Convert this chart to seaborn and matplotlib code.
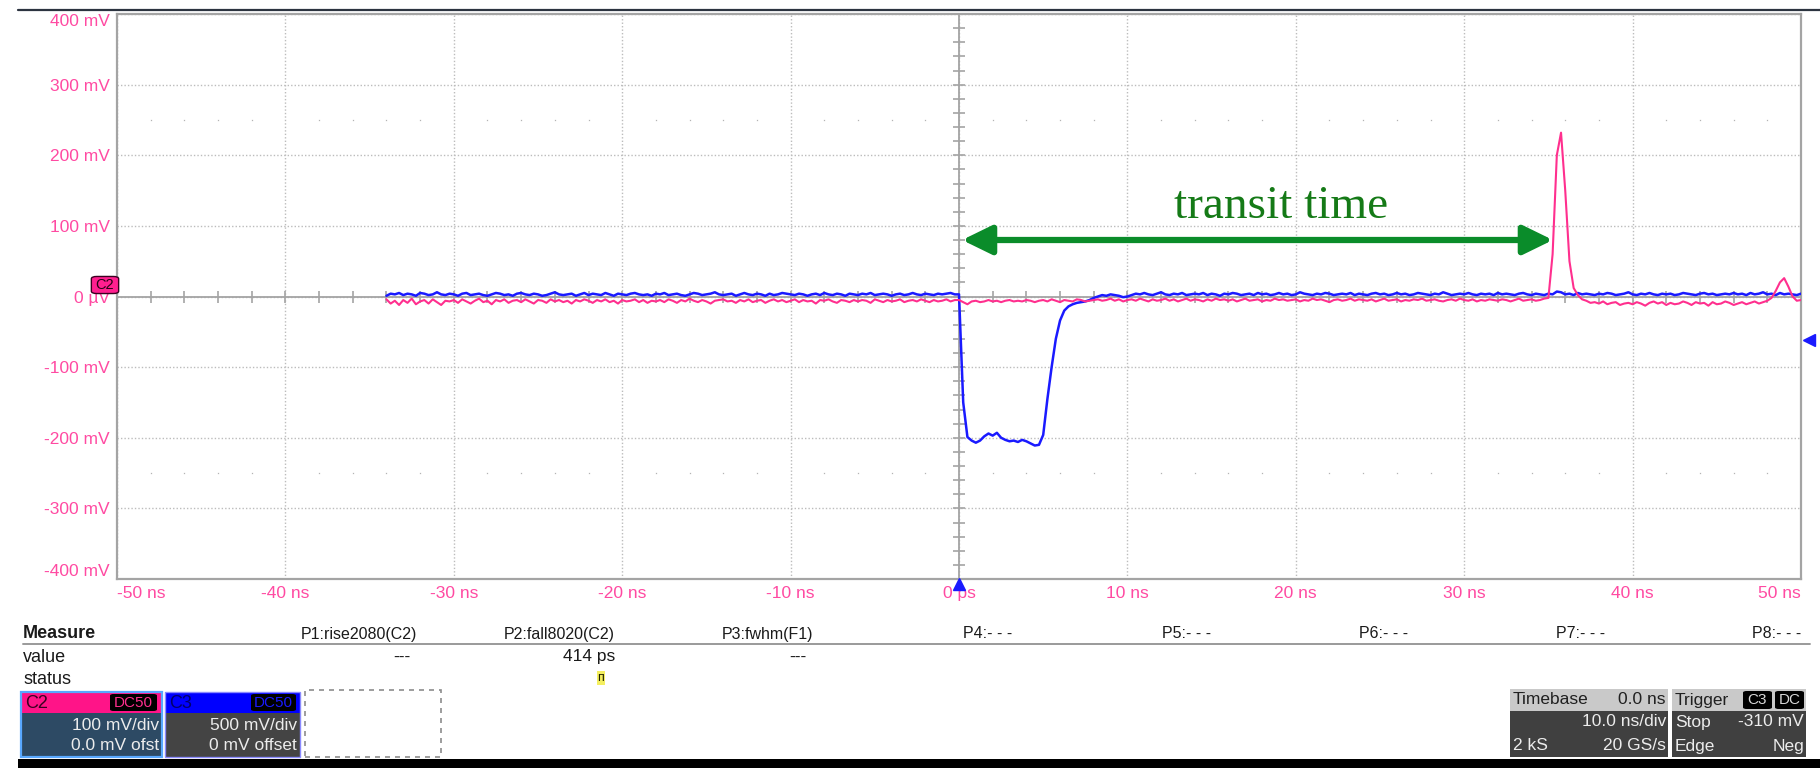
import numpy as np
import pandas as pd
import matplotlib
matplotlib.use("Agg")
import matplotlib.pyplot as plt
import matplotlib.transforms as mtransforms
from matplotlib.patches import Rectangle, FancyBboxPatch
from matplotlib.lines import Line2D
import seaborn as sns

sns.set_style("white")
plt.rcParams["font.family"] = ["Liberation Sans", "DejaVu Sans"]

# ---- acquisition: both channels sampled on the same 0.25 ns grid starting at -34 ns
T_START_NS = -34.0
T_STEP_NS = 0.25

# C3 (blue, trigger pulse), mV
c3_mv = [
    # -34 .. -0.25 ns
    1, 4, 3, 5, 2, 4, 3, 1, 5, 4, 2, 3, 6, 3, 2, 4,
    3, 1, 4, 5, 2, 3, 4, 2, 1, 3, 5, 4, 2, 3, 1, 4,
    5, 3, 2, 4, 3, 1, 2, 4, 6, 3, 2, 3, 4, 1, 3, 5,
    2, 4, 3, 2, 5, 3, 1, 4, 3, 2, 4, 5, 3, 2, 3, 1,
    4, 3, 5, 2, 3, 4, 2, 1, 3, 5, 4, 2, 3, 4, 6, 3,
    2, 3, 4, 1, 3, 5, 3, 2, 4, 3, 1, 4, 2, 3, 5, 4,
    3, 2, 4, 3, 1, 3, 4, 2, 5, 3, 2, 4, 3, 1, 4, 3,
    2, 4, 3, 5, 2, 3, 4, 3, 1, 3, 4, 2, 3, 5, 3, 2,
    4, 3, 2, 4, 3, 4, 5, 3,
    # 0 .. 10 ns
    3, -150, -199, -204, -207, -204, -198, -194, -197, -193,
    -200, -203, -205, -204, -206, -203, -205, -208, -211, -210,
    -196, -145, -100, -60, -34, -20, -14, -11, -9, -8,
    -7, -5, -2, 0, 2, 1, 3, 2, 1, -1, 0,
    # 10.25 .. 50 ns
    2, 4, 3, 5, 3, 2, 4, 6, 3, 2, 4, 3, 5, 2, 3, 4,
    3, 5, 2, 4, 3, 1, 4, 3, 5, 4, 2, 3, 4, 2, 5, 3,
    4, 2, 3, 5, 3, 4, 2, 3, 6, 4, 3, 2, 4, 3, 5, 4,
    2, 3, 4, 3, 5, 2, 4, 3, 2, 4, 5, 3, 4, 2, 3, 5,
    3, 4, 2, 3, 5, 4, 3, 2, 4, 3, 6, 4, 2, 3, 4, 3,
    5, 3, 2, 4, 3, 4, 2, 5, 3, 4, 3, 2, 4, 5, 3, 2,
    4, 3, 2, 4, 3, 7, 6, 3, 4, 2, 5, 3, 4, 3, 2, 4,
    3, 5, 4, 2, 3, 4, 6, 3, 2, 4, 3, 5, 3, 2, 4, 3,
    4, 2, 3, 5, 4, 3, 2, 4, 5, 3, 4, 2, 3, 4, 3, 5,
    3, 4, 2, 5, 3, 4, 6, 3, 4, 2, 5, 3, 4, 3, 2, 4,
]

# C2 (pink, detector signal), mV
c2_mv = [
    # -34 .. -0.25 ns
    -4, -10, -6, -12, -5, -9, -3, -11, -7, -5, -10, -4, -8, -12, -6, -7,
    -5, -9, -4, -7, -10, -6, -3, -8, -6, -11, -5, -7, -4, -9, -6, -5,
    -8, -4, -7, -10, -5, -6, -9, -4, -7, -5, -8, -6, -10, -5, -7, -4,
    -6, -9, -5, -7, -4, -8, -6, -10, -5, -7, -6, -4, -8, -5, -9, -6,
    -7, -5, -8, -4, -6, -9, -5, -7, -3, -6, -8, -5, -7, -10, -6, -5,
    -4, -7, -6, -9, -5, -7, -4, -8, -6, -5, -9, -6, -4, -7, -5, -8,
    -6, -4, -8, -5, -7, -6, -10, -5, -6, -4, -7, -9, -5, -6, -8, -5,
    -7, -5, -6, -9, -4, -6, -8, -5, -7, -6, -4, -8, -6, -5, -7, -4,
    -6, -8, -5, -7, -6, -4, -7, -5,
    # 0 .. 35.75 ns
    -5, -8, -11, -7, -6, -8, -7, -5, -7, -6, -8, -6, -5, -7, -6, -7,
    -5, -6, -8, -6, -5, -7, -4, -6, -8, -5, -6, -7, -4, -5, -7, -6,
    -5, -4, -6, -5, -3, -6, -4, -7, -5, -4, -6, -3, -5, -7, -4, -6,
    -5, -3, -6, -4, -7, -5, -3, -6, -4, -5, -7, -4, -6, -3, -5, -4,
    -6, -4, -7, -5, -3, -6, -5, -4, -7, -5, -6, -3, -5, -4, -6, -5,
    -4, -7, -5, -6, -3, -5, -4, -6, -8, -5, -4, -6, -5, -3, -6, -4,
    -5, -6, -4, -7, -5, -3, -6, -5, -4, -7, -5, -6, -4, -5, -3, -6,
    -5, -4, -6, -7, -5, -4, -6, -3, -5, -6, -4, -7, -5, -6, -4, -5,
    -6, -4, -5, -7, -5, -3, -6, -5, -4, -6, -5, -3, -2, 60, 200, 232,
    # 36 .. 47.75 ns
    150, 50, 12, 2, -4, -6, -9, -8, -10, -7, -11, -9, -8, -12, -10, -9,
    -11, -8, -10, -13, -9, -7, -10, -8, -12, -9, -11, -10, -7, -9, -12, -8,
    -10, -9, -13, -8, -11, -10, -7, -9, -12, -10, -8, -11, -9, -7, -10, -8,
    # 48 .. 50 ns
    -6, -2, 8, 20, 26, 14, 0, -6, -5,
]

x_ticks_ns = [-50, -40, -30, -20, -10, 0, 10, 20, 30, 40, 50]
x_tick_labels = ["-50 ns", "-40 ns", "-30 ns", "-20 ns", "-10 ns", "0 ps",
                 "10 ns", "20 ns", "30 ns", "40 ns", "50 ns"]
y_ticks_mv = [-400, -300, -200, -100, 0, 100, 200, 300, 400]
y_tick_labels = ["-400 mV", "-300 mV", "-200 mV", "-100 mV", "0 \u00b5V",
                 "100 mV", "200 mV", "300 mV", "400 mV"]

transit_start_ns = 0.18
transit_end_ns = 35.27
transit_level_mv = 80
trigger_level_mv = -62

measure_headers = ["P1:rise2080(C2)", "P2:fall8020(C2)", "P3:fwhm(F1)", "P4:- - -",
                   "P5:- - -", "P6:- - -", "P7:- - -", "P8:- - -"]
measure_values = ["---", "414 ps", "---", "", "", "", "", ""]

# ---- colours
PINK = "#ff2f8e"
PINK_TXT = "#ff4aa2"
BLUE = "#1a1aff"
GRID = "#bcbcbc"
AXIS = "#a4a4a4"

W, H = 1820, 768
fig = plt.figure(figsize=(W / 100, H / 100), dpi=100)
fig.patch.set_facecolor("white")


def fx(px):
    return px / W


def fy(py):
    return 1 - py / H


ax = fig.add_axes([fx(117), fy(579), (1801 - 117) / W, (579 - 14) / H])

t_ns = T_START_NS + T_STEP_NS * np.arange(len(c3_mv))
df = pd.DataFrame({"t": t_ns, "C3": c3_mv, "C2": c2_mv})

# graticule
ax.set_xlim(-50, 50)
ax.set_ylim(-400, 400)
ax.set_xticks(x_ticks_ns)
ax.set_xticklabels(x_tick_labels)
ax.set_yticks(y_ticks_mv)
ax.set_yticklabels(y_tick_labels)
ax.grid(True, color=GRID, linestyle=(0, (1, 1.5)), linewidth=1.0)
ax.set_axisbelow(True)
for sp in ax.spines.values():
    sp.set_color(AXIS)
    sp.set_linewidth(1.6)
ax.tick_params(axis="both", length=0, labelsize=12.5, labelcolor=PINK_TXT)
ax.tick_params(axis="y", pad=5)
ax.tick_params(axis="x", pad=5)
xl = ax.get_xticklabels()
xl[0].set_horizontalalignment("left")
xl[-1].set_horizontalalignment("right")
yl = ax.get_yticklabels()
yl[0].set_verticalalignment("bottom")
yl[-1].set_verticalalignment("top")

# centre cross with its minor ticks
ax.axhline(0, color=AXIS, linewidth=1.3, zorder=1)
ax.axvline(0, color=AXIS, linewidth=1.3, zorder=1)
minor_x = np.arange(-48, 49, 2)
ax.plot(minor_x, np.zeros_like(minor_x), linestyle="none", marker="|",
        markersize=8, markeredgewidth=1.2, color=AXIS, zorder=1)
minor_y = np.arange(-380, 381, 20)
ax.plot(np.zeros_like(minor_y), minor_y, linestyle="none", marker="_",
        markersize=8, markeredgewidth=1.2, color=AXIS, zorder=1)
dot_x = np.array([v for v in np.arange(-48, 49, 2) if v % 10 != 0])
for lvl in (250, -250):
    ax.plot(dot_x, np.full(dot_x.shape, lvl), linestyle="none", marker="s",
            markersize=0.9, markeredgewidth=0, color="#b4b4b4", zorder=1)

# traces
sns.lineplot(data=df, x="t", y="C3", color=BLUE, linewidth=1.8, ax=ax,
             estimator=None, zorder=3)
sns.lineplot(data=df, x="t", y="C2", color=PINK, linewidth=1.5, ax=ax,
             estimator=None, zorder=4)
ax.set_xlabel("")
ax.set_ylabel("")

# transit-time annotation
ax.annotate("", xy=(transit_end_ns, transit_level_mv),
            xytext=(transit_start_ns, transit_level_mv),
            arrowprops=dict(arrowstyle="<|-|>,head_length=0.45,head_width=0.22",
                            color="#0a8c2a", lw=4.5, mutation_scale=40,
                            shrinkA=0, shrinkB=0), zorder=5)
ax.text((transit_start_ns + transit_end_ns) / 2 + 1.4, 111, "transit time",
        family=["Liberation Serif", "DejaVu Serif"], fontsize=34,
        color="#157a17", ha="center", va="baseline", zorder=5)

# trigger markers
tr_r = mtransforms.blended_transform_factory(ax.transAxes, ax.transData)
ax.plot([1.0045], [trigger_level_mv], marker="<", markersize=9, color=BLUE,
        transform=tr_r, clip_on=False, linestyle="none", zorder=6)
tr_b = mtransforms.blended_transform_factory(ax.transData, ax.transAxes)
ax.plot([0], [-0.008], marker="^", markersize=9, color=BLUE,
        transform=tr_b, clip_on=False, linestyle="none", zorder=6)

# C2 ground marker at the left edge
fig.add_artist(FancyBboxPatch((fx(95), fy(292)), 20 / W, 14 / H,
                              boxstyle="round,pad=0.002,rounding_size=0.003",
                              transform=fig.transFigure, facecolor="#ff1f8f",
                              edgecolor="#3a0020", linewidth=1.0, zorder=10))
fig.text(fx(105), fy(285), "C2", fontsize=10.5, color="#2a0015",
         ha="center", va="center", zorder=11)

# top rule
fig.add_artist(Line2D([fx(18), 1.0], [fy(9.5), fy(9.5)], color="#2c3440",
                      linewidth=1.6, transform=fig.transFigure))


# ---- measurement table
def ftext(x, y, s, **kw):
    kw.setdefault("va", "center")
    return fig.text(fx(x), fy(y), s, **kw)


ftext(23, 634, "Measure", fontsize=13, fontweight="bold", color="#1a1a1a")
fig.add_artist(Line2D([fx(23), fx(1810)], [fy(644), fy(644)], color="#9a9a9a",
                      linewidth=1.4, transform=fig.transFigure))
ftext(23, 657, "value", fontsize=13, color="#1a1a1a")
ftext(23, 679, "status", fontsize=13, color="#1a1a1a")
col_right = [417, 615, 813, 1012, 1211, 1408, 1605, 1801]
for xr, head, val in zip(col_right, measure_headers, measure_values):
    ftext(xr, 634, head, fontsize=11.5, color="#1a1a1a", ha="right")
    if val:
        ftext(xr - (6 if val == "---" else 0), 657, val, fontsize=12.5,
              color="#1a1a1a", ha="right")
ftext(601, 678, "\u043f", fontsize=9, color="#202000", ha="center",
      bbox=dict(boxstyle="square,pad=0.05", facecolor="#f4ef60", edgecolor="none"))


def rect(x0, y0, x1, y1, **kw):
    kw.setdefault("linewidth", 0)
    fig.add_artist(Rectangle((fx(x0), fy(y1)), (x1 - x0) / W, (y1 - y0) / H,
                             transform=fig.transFigure, **kw))


def badge(x0, y0, x1, y1, s, color):
    fig.add_artist(FancyBboxPatch((fx(x0), fy(y1)), (x1 - x0) / W, (y1 - y0) / H,
                                  boxstyle="round,pad=0,rounding_size=0.002",
                                  transform=fig.transFigure, facecolor="black",
                                  edgecolor="none", zorder=5))
    ftext((x0 + x1) / 2, (y0 + y1) / 2 + 0.5, s, fontsize=11, color=color,
          ha="center", zorder=6)


BOX_TXT = "#ececec"
# C2 channel box
rect(21, 713, 162, 757, facecolor="#2d4a64")
rect(21, 692, 162, 713, facecolor="#ff1488")
rect(21, 692, 162, 757, facecolor="none", edgecolor="#58a8ff", linewidth=1.6)
ftext(25, 703, "C2", fontsize=13, color="#3a0020")
badge(110, 694, 157, 711, "DC50", "#ff2f8e")
ftext(159, 726, "100 mV/div", fontsize=12.5, color=BOX_TXT, ha="right")
ftext(159, 746, "0.0 mV ofst", fontsize=12.5, color=BOX_TXT, ha="right")
# C3 channel box
rect(165, 713, 300, 757, facecolor="#444444")
rect(165, 692, 300, 713, facecolor="#0000ff")
rect(165, 692, 300, 757, facecolor="none", edgecolor="#8a8aff", linewidth=1.0)
ftext(169, 703, "C3", fontsize=13, color="#00006a")
badge(251, 694, 296, 711, "DC50", "#1a1aff")
ftext(297, 726, "500 mV/div", fontsize=12.5, color=BOX_TXT, ha="right")
ftext(297, 746, "0 mV offset", fontsize=12.5, color=BOX_TXT, ha="right")
# empty slot
rect(305, 690, 441, 757, facecolor="none", edgecolor="#8c8c8c",
     linewidth=1.2, linestyle=(0, (3, 3)))

# timebase box
rect(1510, 711, 1668, 757, facecolor="#404040")
rect(1510, 689, 1668, 711, facecolor="#c9c9c9")
ftext(1513, 700, "Timebase", fontsize=12.5, color="#202020")
ftext(1666, 700, "0.0 ns", fontsize=12.5, color="#202020", ha="right")
ftext(1666, 722, "10.0 ns/div", fontsize=12.5, color=BOX_TXT, ha="right")
ftext(1513, 746, "2 kS", fontsize=12.5, color=BOX_TXT)
ftext(1666, 746, "20 GS/s", fontsize=12.5, color=BOX_TXT, ha="right")
# trigger box
rect(1672, 711, 1806, 757, facecolor="#404040")
rect(1672, 689, 1806, 711, facecolor="#c9c9c9")
ftext(1675, 700, "Trigger", fontsize=12.5, color="#202020")
badge(1743, 691, 1772, 709, "C3", "#d8d8d8")
badge(1775, 691, 1804, 709, "DC", "#d8d8d8")
ftext(1675, 722, "Stop", fontsize=12.5, color=BOX_TXT)
ftext(1804, 722, "-310 mV", fontsize=12.5, color=BOX_TXT, ha="right")
ftext(1675, 746, "Edge", fontsize=12.5, color=BOX_TXT)
ftext(1804, 746, "Neg", fontsize=12.5, color=BOX_TXT, ha="right")

# bottom status strip
rect(18, 759, W, H, facecolor="black")

fig.savefig("out.png", dpi=100)
